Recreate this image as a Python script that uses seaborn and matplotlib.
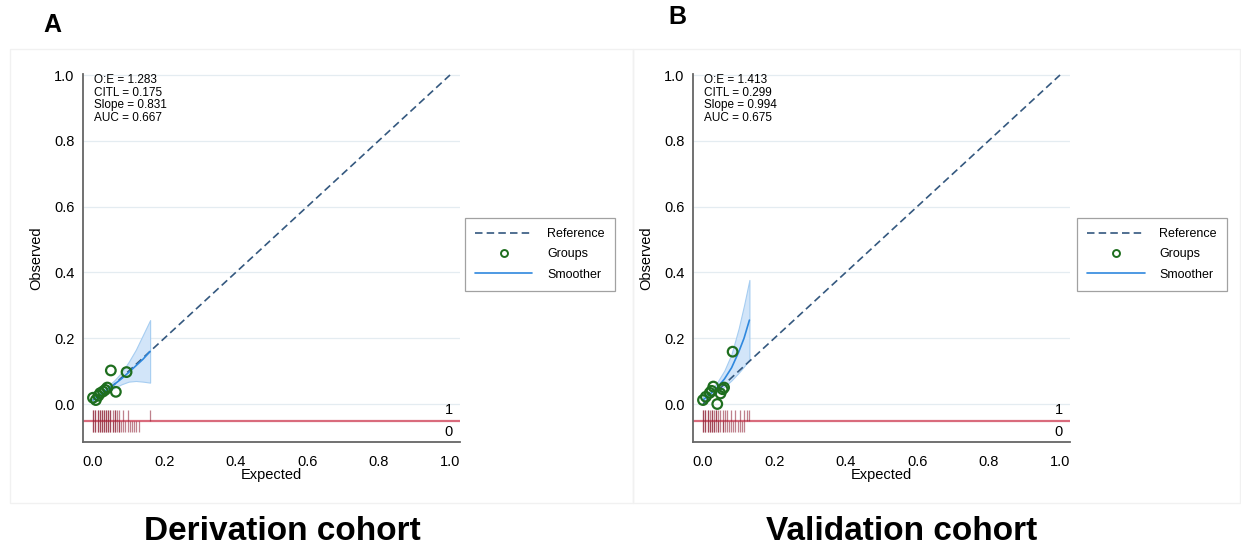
import numpy as np
import pandas as pd
import matplotlib
matplotlib.use("Agg")
import matplotlib.pyplot as plt
from matplotlib.patches import Rectangle
from matplotlib.lines import Line2D
import seaborn as sns

# ---------------- data ----------------
axis_ticks = [0.0, 0.2, 0.4, 0.6, 0.8, 1.0]
tick_labels = ["0.0", "0.2", "0.4", "0.6", "0.8", "1.0"]

# Derivation cohort
stats_der = ["O:E = 1.283", "CITL = 0.175", "Slope = 0.831", "AUC = 0.667"]
groups_der_exp = [0.000, 0.008, 0.015, 0.020, 0.028, 0.034, 0.040, 0.050, 0.064, 0.094]
groups_der_obs = [0.019, 0.012, 0.025, 0.033, 0.038, 0.043, 0.050, 0.102, 0.037, 0.097]
smooth_der_x = [0.000, 0.020, 0.040, 0.060, 0.080, 0.100, 0.120, 0.140, 0.160]
smooth_der_y = [0.012, 0.028, 0.044, 0.060, 0.077, 0.096, 0.116, 0.136, 0.160]
smooth_der_lo = [0.002, 0.020, 0.036, 0.049, 0.060, 0.068, 0.070, 0.068, 0.065]
smooth_der_hi = [0.024, 0.037, 0.053, 0.072, 0.096, 0.128, 0.165, 0.210, 0.255]
rug_der_events = [0.001, 0.001, 0.007, 0.007, 0.013, 0.013, 0.019, 0.019, 0.025,
                  0.025, 0.031, 0.031, 0.037, 0.037, 0.043, 0.043, 0.049, 0.049,
                  0.055, 0.061, 0.061, 0.067, 0.073, 0.085, 0.097, 0.160]
rug_der_nonevents = [0.001, 0.001, 0.007, 0.007, 0.013, 0.013, 0.019, 0.019, 0.025,
                     0.025, 0.031, 0.031, 0.037, 0.037, 0.043, 0.043, 0.049, 0.049,
                     0.055, 0.055, 0.061, 0.061, 0.067, 0.073, 0.073, 0.079, 0.085,
                     0.091, 0.097, 0.103, 0.109, 0.115, 0.121, 0.130]

# Validation cohort
stats_val = ["O:E = 1.413", "CITL = 0.299", "Slope = 0.994", "AUC = 0.675"]
groups_val_exp = [0.000, 0.008, 0.019, 0.024, 0.029, 0.040, 0.049, 0.055, 0.059, 0.083]
groups_val_obs = [0.012, 0.022, 0.034, 0.040, 0.053, 0.000, 0.032, 0.045, 0.050, 0.159]
smooth_val_x = [0.000, 0.020, 0.040, 0.060, 0.080, 0.100, 0.115, 0.130]
smooth_val_y = [0.012, 0.030, 0.050, 0.076, 0.110, 0.158, 0.200, 0.255]
smooth_val_lo = [0.002, 0.021, 0.036, 0.052, 0.072, 0.095, 0.114, 0.136]
smooth_val_hi = [0.024, 0.040, 0.066, 0.102, 0.152, 0.230, 0.300, 0.377]
rug_val_events = [0.001, 0.001, 0.007, 0.007, 0.013, 0.013, 0.019, 0.025, 0.025,
                  0.031, 0.037, 0.037, 0.043, 0.049, 0.055, 0.061, 0.067, 0.079,
                  0.091, 0.103, 0.115, 0.124, 0.128]
rug_val_nonevents = [0.001, 0.001, 0.007, 0.007, 0.013, 0.013, 0.019, 0.019, 0.025,
                     0.025, 0.031, 0.031, 0.037, 0.043, 0.043, 0.049, 0.055, 0.055,
                     0.061, 0.067, 0.073, 0.079, 0.085, 0.091, 0.097, 0.103, 0.109,
                     0.115]

panel_letters = ["A", "B"]
panel_titles = ["Derivation cohort", "Validation cohort"]
legend_labels = ["Reference", "Groups", "Smoother"]

# ---------------- style ----------------
sns.set_style("white")
plt.rcParams["font.family"] = ["Liberation Sans", "DejaVu Sans"]
plt.rcParams["text.color"] = "black"
plt.rcParams["axes.labelcolor"] = "black"

C_REF = "#34587f"
C_GRP = "#1e6e1e"
C_SMO = "#2f88de"
C_FILL = "#d2e5f9"
C_FILL_EDGE = "#a6cdf1"
C_RUGLINE = "#d96b7c"
C_SPIKE = "#8b1a2e"
C_SPINE = "#666666"
C_GRID = "#e4ecf1"

W, H = 1241, 555
fig = plt.figure(figsize=(W / 100, H / 100), dpi=100)
fig.patch.set_facecolor("white")

# faint panel frames
for (x0, y0, x1, y1) in [(10, 49, 633, 503), (633, 49, 1240, 503)]:
    fig.patches.append(Rectangle((x0 / W, 1 - y1 / H), (x1 - x0) / W, (y1 - y0) / H,
                                 transform=fig.transFigure, fill=False,
                                 edgecolor="#f1f1f1", linewidth=1.0, zorder=0))

YLO, YHI = -0.1155, 1.003
XLO, XHI = -0.028, 1.028
RUG_Y = -0.0517
RUG_TOP = -0.018
RUG_BOT = -0.085


def panel(ax, stats, gx, gy, sx, sy, slo, shi, ev, nev, legend_anchor):
    ax.set_xlim(XLO, XHI)
    ax.set_ylim(YLO, YHI)
    for y in axis_ticks:
        ax.axhline(y, color=C_GRID, lw=0.9, zorder=0)

    # confidence band and smoother
    ax.fill_between(sx, slo, shi, facecolor=C_FILL, edgecolor=C_FILL_EDGE,
                    lw=0.8, zorder=1)
    ref = pd.DataFrame({"x": [0.0, 1.0], "y": [0.0, 1.0]})
    sns.lineplot(data=ref, x="x", y="y", ax=ax, color=C_REF, lw=1.2,
                 linestyle=(0, (4.5, 2.5)), zorder=2)
    smo = pd.DataFrame({"x": sx, "y": sy})
    sns.lineplot(data=smo, x="x", y="y", ax=ax, color=C_SMO, lw=1.2, zorder=3)
    grp = pd.DataFrame({"x": gx, "y": gy})
    sns.scatterplot(data=grp, x="x", y="y", ax=ax, s=48, facecolor="none",
                    edgecolor=C_GRP, linewidth=1.6, zorder=4)

    # rug of outcomes
    ax.axhline(RUG_Y, color=C_RUGLINE, lw=1.6, zorder=2)
    ax.vlines(ev, RUG_Y, RUG_TOP, colors=C_SPIKE, alpha=0.55, lw=0.9, zorder=3)
    ax.vlines(nev, RUG_BOT, RUG_Y, colors=C_SPIKE, alpha=0.55, lw=0.9, zorder=3)
    ax.text(0.997, -0.018, "1", ha="center", va="center", fontsize=10.5, color="black")
    ax.text(0.997, -0.085, "0", ha="center", va="center", fontsize=10.5, color="black")

    # statistics
    for i, s in enumerate(stats):
        ax.text(0.029, 0.9837 - i * 0.0345, s, transform=ax.transAxes,
                ha="left", va="center", fontsize=8.5, color="black")

    ax.set_xticks(axis_ticks)
    ax.set_xticklabels(tick_labels)
    ax.set_yticks(axis_ticks)
    ax.set_yticklabels(tick_labels)
    ax.tick_params(axis="both", direction="out", length=4.5, width=1.0,
                   color=C_SPINE, labelsize=10.5, labelcolor="black")
    ax.tick_params(axis="x", pad=5)
    ax.tick_params(axis="y", pad=1.5)
    for side in ["top", "right"]:
        ax.spines[side].set_visible(False)
    for side in ["left", "bottom"]:
        ax.spines[side].set_color(C_SPINE)
        ax.spines[side].set_linewidth(1.3)

    ax.set_xlabel("Expected", fontsize=10.5, color="black")
    ax.set_ylabel("Observed", fontsize=10.5, color="black")
    ax.xaxis.set_label_coords(0.5, -0.072)
    ax.yaxis.set_label_coords(-0.105, 0.5)

    handles = [
        Line2D([], [], color=C_REF, lw=1.2, linestyle=(0, (4.5, 2.5))),
        Line2D([], [], color=C_GRP, lw=0, marker="o", markersize=5,
               markerfacecolor="none", markeredgewidth=1.4),
        Line2D([], [], color=C_SMO, lw=1.2),
    ]
    leg = ax.legend(handles, legend_labels, loc="upper left",
                    bbox_to_anchor=legend_anchor, borderaxespad=0,
                    fontsize=9, handlelength=4.6, handletextpad=1.2,
                    labelspacing=0.66, borderpad=0.8, frameon=True,
                    fancybox=False)
    leg.get_frame().set_edgecolor("#8a8a8a")
    leg.get_frame().set_linewidth(0.9)
    for t in leg.get_texts():
        t.set_color("black")


def axes_rect(left_px, right_px):
    bottom_px, top_px = 442, 75 - 0.003 * 329
    return [left_px / W, 1 - bottom_px / H, (right_px - left_px) / W,
            (bottom_px - top_px) / H]


ax1 = fig.add_axes(axes_rect(83, 460))
ax2 = fig.add_axes(axes_rect(693, 1070))

panel(ax1, stats_der, groups_der_exp, groups_der_obs, smooth_der_x, smooth_der_y,
      smooth_der_lo, smooth_der_hi, rug_der_events, rug_der_nonevents,
      ((465 - 83) / 377, (442 - 218) / 368))
panel(ax2, stats_val, groups_val_exp, groups_val_obs, smooth_val_x, smooth_val_y,
      smooth_val_lo, smooth_val_hi, rug_val_events, rug_val_nonevents,
      ((1077 - 693) / 377, (442 - 218) / 368))

# panel letters and cohort titles
fig.text(52 / W, 1 - 25 / H, panel_letters[0], ha="center", va="center",
         fontsize=18, fontweight="bold", color="black")
fig.text(677 / W, 1 - 17 / H, panel_letters[1], ha="center", va="center",
         fontsize=18, fontweight="bold", color="black")
fig.text(282 / W, 1 - 532 / H, panel_titles[0], ha="center", va="center",
         fontsize=24, fontweight="bold", color="black")
fig.text(902 / W, 1 - 532 / H, panel_titles[1], ha="center", va="center",
         fontsize=24, fontweight="bold", color="black")

fig.savefig("out.png", dpi=100, facecolor="white")
